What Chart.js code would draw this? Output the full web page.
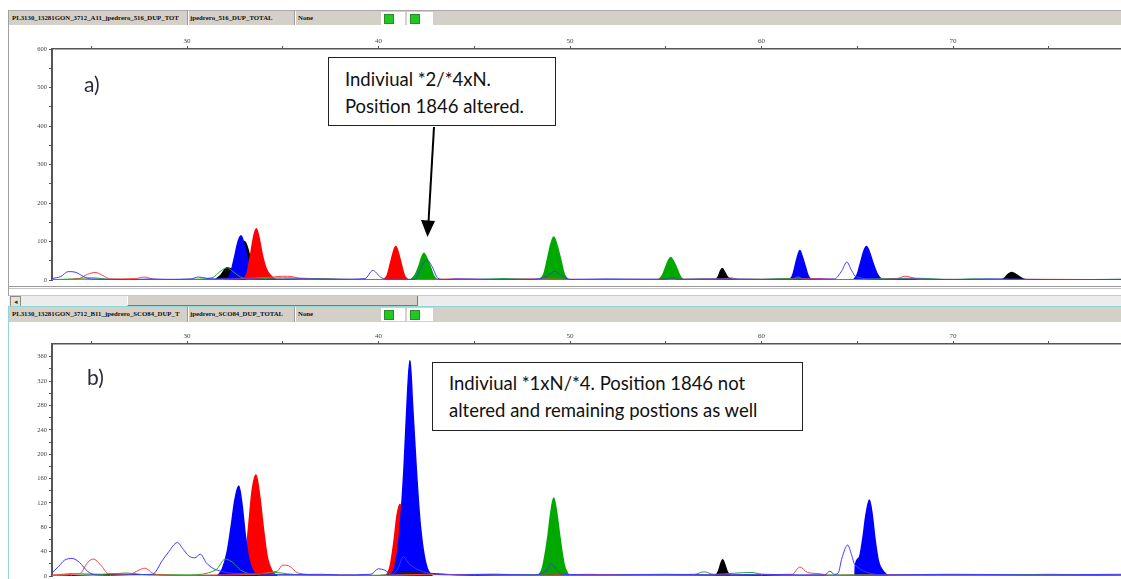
<!DOCTYPE html>
<html>
<head>
<meta charset="utf-8">
<script src="https://cdn.jsdelivr.net/npm/chart.js"></script>
<style>
  body { margin: 0; background: #fff; }
  #page { position: relative; width: 1121px; height: 579px; overflow: hidden; background: #fff; }
  .hdr { position: absolute; left: 8px; right: 0; height: 14px; background: #d4d0c8; border-top: 1px solid #a8a8a8; }
  .hdr span { position: absolute; top: 3px; font: bold 6.8px 'Liberation Serif', serif; color: #111; white-space: nowrap; }
  .sep { position: absolute; top: 0; bottom: 0; width: 1px; background: #fff; border-left: 1px solid #9a9a9a; }
  .cell { position: absolute; top: 1px; height: 13px; background: #fff; }
  .led { position: absolute; top: 3px; width: 8px; height: 8px; background: #22c822; border: 1px solid #2b8a2b; }
  .plot { position: absolute; left: 0; width: 1121px; }
  .note { position: absolute; border: 1px solid #222; background: #fff; font: 18.5px Lato, sans-serif; color: #111;
          line-height: 27px; padding-left: 16px; box-sizing: border-box; white-space: nowrap; }
  .tag { position: absolute; font: 21px Lato, sans-serif; color: #2a2a3a; }
</style>
</head>
<body>
<div id="page">
  <!-- panel a -->
  <div class="hdr" style="top:10px">
    <span style="left:4px">PL3130_13281GON_3712_A11_jpedrero_516_DUP_TOT</span>
    <div class="sep" style="left:179px"></div>
    <span style="left:182px">jpedrero_516_DUP_TOTAL</span>
    <div class="sep" style="left:286px"></div>
    <span style="left:290px">None</span>
    <div class="cell" style="left:373px;width:24px"></div>
    <div class="led" style="left:376px"></div>
    <div class="cell" style="left:399px;width:26px"></div>
    <div class="led" style="left:402px"></div>
  </div>
  <div style="position:absolute;left:8px;top:10px;width:1px;height:286px;background:#a0a0a0"></div>
  <div class="plot" style="top:31px;height:255px"><canvas id="chartA"></canvas></div>
  <div style="position:absolute;left:9px;right:0;top:286px;height:1px;background:#9a9a9a"></div>
  <div style="position:absolute;left:9px;right:0;top:288px;height:1px;background:#c4c4c4"></div>
  <!-- scrollbar -->
  <div style="position:absolute;left:9px;right:0;top:295px;height:11px;background:#ececec;border-top:1px solid #c8c8c8"></div>
  <div style="position:absolute;left:10px;top:296px;width:9px;height:9px;background:#e4e1da;border:1px solid #8a8a8a;font:7px sans-serif;line-height:9px;text-align:center;color:#333">&#9666;</div>
  <div style="position:absolute;left:127px;top:296px;width:289px;height:9px;background:#d4d0c8;border-right:1px solid #7a7a7a;border-bottom:1px solid #7a7a7a;border-left:1px solid #fff"></div>

  <!-- panel b -->
  <div style="position:absolute;left:8px;right:0;top:306px;height:1px;background:#8fd6d6"></div>
  <div style="position:absolute;left:8px;top:306px;width:1px;height:273px;background:#8fd6d6"></div>
  <div class="hdr" style="top:307px;left:9px;border-top:none;height:15px">
    <span style="left:3px">PL3130_13281GON_3712_B11_jpedrero_SCO84_DUP_T</span>
    <div class="sep" style="left:178px"></div>
    <span style="left:181px">jpedrero_SCO84_DUP_TOTAL</span>
    <div class="sep" style="left:285px"></div>
    <span style="left:289px">None</span>
    <div class="cell" style="left:372px;width:24px"></div>
    <div class="led" style="left:375px"></div>
    <div class="cell" style="left:398px;width:26px"></div>
    <div class="led" style="left:401px"></div>
  </div>
  <div class="plot" style="top:326px;height:256px"><canvas id="chartB"></canvas></div>

  <!-- annotations -->
  <div class="tag" style="left:84px;top:71px">a)</div>
  <div class="tag" style="left:87px;top:364px">b)</div>
  <div class="note" style="left:328px;top:57px;width:228px;height:69px;padding-top:8px">Indiviual *2/*4xN.<br>Position 1846 altered.</div>
  <div class="note" style="left:432px;top:362px;width:371px;height:69px;padding-top:7px">Indiviual *1xN/*4. Position 1846 not<br>altered and remaining postions as well</div>
  <svg style="position:absolute;left:0;top:0" width="1121" height="579">
    <line x1="434" y1="127" x2="428.5" y2="222" stroke="#000" stroke-width="2"/>
    <polygon points="427.5,237 421,220 435,221" fill="#000"/>
  </svg>
</div>

<script>
// x axis (size units) shared by both panels
const xMin = 22.95;
const xMax = 78.77;

// panel a) values, [size, rfu]
const aBluePeaks = [
  [[32.05,0],[32.25,14],[32.47,57],[32.67,100],[32.82,115],[32.97,95],[33.15,57],[33.32,20],[33.55,0]],
  [[61.45,0],[61.62,12],[61.76,38],[61.9,65],[62.0,77],[62.12,62],[62.27,38],[62.43,12],[62.62,0]],
  [[64.8,0],[65.0,15],[65.16,43],[65.34,75],[65.48,87],[65.63,73],[65.83,43],[66.05,15],[66.3,0]]
];
const aRedPeaks = [
  [[32.95,0],[33.15,20],[33.32,66],[33.49,115],[33.62,133],[33.76,110],[33.93,66],[34.13,30],[34.4,10],[34.65,0]],
  [[40.25,0],[40.45,12],[40.62,43],[40.77,72],[40.9,87],[41.03,72],[41.18,43],[41.35,12],[41.55,0]]
];
const aGreenPeaks = [
  [[41.65,0],[41.9,12],[42.1,35],[42.26,60],[42.37,70],[42.51,58],[42.7,35],[42.87,12],[43.05,0]],
  [[48.4,0],[48.63,15],[48.83,56],[49.01,95],[49.15,112],[49.31,92],[49.5,56],[49.7,15],[49.92,0]],
  [[54.6,0],[54.8,10],[54.97,30],[55.13,50],[55.26,59],[55.41,48],[55.58,30],[55.75,10],[55.92,0]]
];
const aBlackPeaks = [
  [[31.46,0],[31.75,12],[32.1,32],[32.35,28],[32.6,55],[32.85,90],[33.0,100],[33.17,82],[33.38,38],[33.6,10],[33.8,0]],
  [[57.6,0],[57.75,10],[57.86,24],[57.95,30],[58.06,22],[58.22,8],[58.5,0]],
  [[72.55,0],[72.75,8],[72.9,16],[73.04,20],[73.22,17],[73.45,9],[73.65,3],[73.9,0]]
];
const aBlueTrace = [[22.95,4],[23.4,9],[23.8,22],[24.2,20],[24.6,9],[25.0,3],[26.0,2],[27.0,1],[28.0,3],[29.0,2],[30.2,3],[30.6,8],[31.0,5],[31.5,3],[32.0,5],[32.2,3],[33.5,3],[34.0,2],[36.0,3],[38.0,2],[39.3,4],[39.7,25],[40.1,8],[40.4,2],[41.9,2],[42.2,30],[42.5,53],[42.8,35],[43.1,5],[43.5,1],[44.0,3],[46.0,2],[48.0,2],[48.8,10],[49.2,23],[49.6,10],[50.0,2],[52.0,3],[55.0,2],[55.3,7],[55.6,2],[58.0,3],[60.0,2],[63.8,3],[64.2,25],[64.45,47],[64.7,25],[64.95,8],[66.3,2],[68.0,3],[70.0,1],[72.0,3],[74.0,2],[76.0,1],[78.77,2]];
const aRedTrace = [[22.95,1],[24.3,3],[24.8,15],[25.2,20],[25.6,12],[26.0,3],[27.3,4],[27.8,8],[28.2,3],[29.0,1],[31.0,1],[32.0,2],[34.5,8],[35.0,10],[35.5,9],[36.0,3],[37.0,2],[39.0,1],[41.6,1],[44.0,3],[46.0,1],[48.0,3],[50.0,2],[52.0,1],[55.0,2],[58.0,3],[58.4,6],[58.8,2],[61.6,2],[61.9,8],[62.2,3],[63.0,4],[64.0,1],[67.0,3],[67.5,10],[67.9,6],[68.2,2],[70.0,1],[75.0,2],[78.77,1]];
const aGreenTrace = [[22.95,1],[24.0,3],[25.0,6],[26.0,2],[28.0,1],[30.0,2],[31.3,6],[31.8,25],[32.1,32],[32.4,22],[32.8,8],[33.3,2],[34.0,4],[35.0,6],[36.0,5],[37.0,3],[39.0,1],[41.0,2],[43.0,1],[45.0,1],[46.5,4],[48.0,2],[50.0,1],[52.0,2],[55.0,1],[57.0,3],[60.0,2],[61.0,4],[62.5,3],[63.5,1],[65.0,2],[68.0,5],[70.0,1],[71.0,3],[74.0,1],[78.77,2]];
const aBlackTrace = [[22.95,0],[30.0,1],[35.0,2],[37.0,3],[40.0,1],[45.0,2],[50.0,1],[55.0,2],[60.0,1],[70.0,2],[78.77,1]];

// panel b)
const bBluePeaks = [
  [[31.6,0],[31.85,12],[32.1,40],[32.3,80],[32.5,125],[32.7,148],[32.88,115],[33.05,65],[33.25,25],[33.5,5],[33.7,0]],
  [[40.6,0],[40.85,15],[41.1,70],[41.33,177],[41.5,290],[41.64,354],[41.78,280],[41.97,177],[42.15,95],[42.35,40],[42.55,12],[42.8,0]],
  [[64.88,0],[64.9,18],[65.1,30],[65.29,62],[65.45,100],[65.63,125],[65.78,100],[65.92,62],[66.1,25],[66.35,8],[66.6,0]]
];
const bRedPeaks = [
  [[32.8,0],[33.0,15],[33.2,75],[33.4,140],[33.6,166],[33.8,130],[34.0,75],[34.2,30],[34.45,8],[34.7,0]],
  [[40.4,0],[40.6,15],[40.8,55],[40.97,100],[41.12,118],[41.3,85],[41.5,40],[41.7,12],[41.9,0]]
];
const bGreenPeaks = [
  [[48.3,0],[48.55,12],[48.84,64],[49.0,105],[49.15,128],[49.3,105],[49.47,64],[49.7,18],[49.95,0]]
];
const bBlackPeaks = [
  [[57.6,0],[57.75,8],[57.87,20],[57.97,27],[58.07,20],[58.2,8],[58.4,0]]
];
const bBlueTrace = [[22.95,5],[23.3,16],[23.6,26],[24.0,29],[24.4,22],[24.8,8],[25.2,2],[26.0,1],[27.0,2],[28.2,3],[28.7,25],[29.0,38],[29.5,55],[29.8,44],[30.1,33],[30.4,30],[30.7,36],[31.0,22],[31.4,12],[31.8,8],[32.2,5],[33.6,4],[35.0,2],[37.0,3],[38.0,2],[39.6,3],[40.0,12],[40.3,10],[40.7,3],[41.0,12],[41.3,32],[41.6,20],[42.8,4],[44.0,2],[46.0,3],[48.0,2],[48.8,10],[49.0,20],[49.3,10],[49.6,3],[52.0,2],[55.0,3],[58.0,2],[60.0,3],[62.0,2],[63.3,2],[63.57,8],[63.8,3],[64.0,5],[64.2,30],[64.5,51],[64.7,35],[64.88,18],[66.6,2],[70.0,3],[74.0,2],[78.77,3]];
const bRedTrace = [[22.95,2],[24.4,4],[24.8,22],[25.1,28],[25.5,18],[25.9,4],[27.0,3],[27.5,10],[27.8,13],[28.2,5],[28.6,2],[30.0,1],[32.0,2],[34.7,8],[35.0,18],[35.3,17],[35.8,5],[37.0,2],[40.0,1],[42.5,3],[45.0,2],[48.0,1],[51.0,3],[54.0,1],[58.0,2],[61.6,3],[62.0,15],[62.4,6],[63.0,4],[63.6,1],[67.0,2],[72.0,1],[78.77,2]];
const bGreenTrace = [[22.95,1],[24.0,4],[25.5,3],[26.8,5],[28.0,2],[30.0,2],[31.5,10],[32.0,28],[32.4,22],[32.8,10],[33.5,3],[34.5,6],[35.5,3],[38.0,1],[42.0,2],[46.0,3],[50.0,1],[54.0,2],[56.5,3],[57.0,7],[57.5,3],[59.5,6],[60.0,3],[62.0,1],[65.0,2],[70.0,1],[75.0,3],[78.77,1]];
const bBlackTrace = [[22.95,0],[27.0,3],[30.0,1],[35.0,2],[40.0,1],[41.5,6],[45.0,1],[50.0,2],[60.0,1],[70.0,2],[78.77,1]];

const fillColors = { blue: '#0000ff', red: '#ff0000', green: '#00a800', black: '#000000' };
const traceColors = { blue: '#3b3bff', red: '#ff4040', green: '#22aa22', black: '#222222' };

const isMult = (v, n) => Math.abs(v / n - Math.round(v / n)) < 1e-6;

function peakSets(peaks, color) {
  return peaks.map(p => ({
    data: p,
    borderColor: color,
    backgroundColor: color,
    borderWidth: 1.5,
    fill: 'origin',
    pointRadius: 0,
    cubicInterpolationMode: 'monotone'
  }));
}

function traceSet(data, color) {
  return {
    data: data,
    borderColor: color,
    borderWidth: 1,
    fill: false,
    pointRadius: 0,
    cubicInterpolationMode: 'monotone'
  };
}

function makeChart(id, datasets, yMax, yStep, yLabelStep) {
  const axisColor = '#555';
  const tickFont = { family: 'Liberation Serif', size: 7 };
  return new Chart(document.getElementById(id), {
    type: 'line',
    data: { datasets: datasets },
    options: {
      responsive: true,
      maintainAspectRatio: false,
      animation: false,
      layout: { padding: { top: 0, left: 0, right: 0, bottom: 2 } },
      plugins: { legend: { display: false }, tooltip: { enabled: false } },
      scales: {
        x: {
          type: 'linear',
          position: 'top',
          min: xMin,
          max: xMax,
          afterBuildTicks: s => { s.ticks = s.ticks.filter(t => isMult(t.value, 5) && t.value > xMin && t.value < xMax); },
          afterFit: s => { s.height = 18; },
          ticks: {
            stepSize: 5, autoSkip: false, maxRotation: 0, padding: 1,
            font: tickFont, color: '#444',
            callback: v => isMult(v, 10) ? String(Math.round(v)) : ''
          },
          grid: { drawOnChartArea: false, drawTicks: true, tickLength: 3, color: axisColor },
          border: { color: axisColor, width: 1.5 }
        },
        y: {
          min: 0,
          max: yMax,
          afterBuildTicks: s => { s.ticks = s.ticks.filter(t => isMult(t.value, yStep)); },
          afterFit: s => { s.width = 52; },
          ticks: {
            stepSize: yStep, autoSkip: false, padding: 2,
            font: { family: 'Liberation Serif', size: 6.5 }, color: '#444',
            callback: v => isMult(v, yLabelStep) ? String(Math.round(v)) : ''
          },
          grid: { drawOnChartArea: false, drawTicks: true, tickLength: 3, color: axisColor },
          border: { color: axisColor, width: 2 }
        }
      }
    }
  });
}

// first dataset is drawn on top
const datasetsA = [
  traceSet(aBlueTrace, traceColors.blue),
  traceSet(aRedTrace, traceColors.red),
  traceSet(aGreenTrace, traceColors.green),
  traceSet(aBlackTrace, traceColors.black),
  ...peakSets(aRedPeaks, fillColors.red),
  ...peakSets(aBluePeaks, fillColors.blue),
  ...peakSets(aBlackPeaks, fillColors.black),
  ...peakSets(aGreenPeaks, fillColors.green)
];

const datasetsB = [
  traceSet(bBlueTrace, traceColors.blue),
  traceSet(bRedTrace, traceColors.red),
  traceSet(bGreenTrace, traceColors.green),
  traceSet(bBlackTrace, traceColors.black),
  ...peakSets(bBluePeaks, fillColors.blue),
  ...peakSets(bRedPeaks, fillColors.red),
  ...peakSets(bBlackPeaks, fillColors.black),
  ...peakSets(bGreenPeaks, fillColors.green)
];

makeChart('chartA', datasetsA, 600, 50, 100);
makeChart('chartB', datasetsB, 381, 20, 40);
</script>
</body>
</html>
